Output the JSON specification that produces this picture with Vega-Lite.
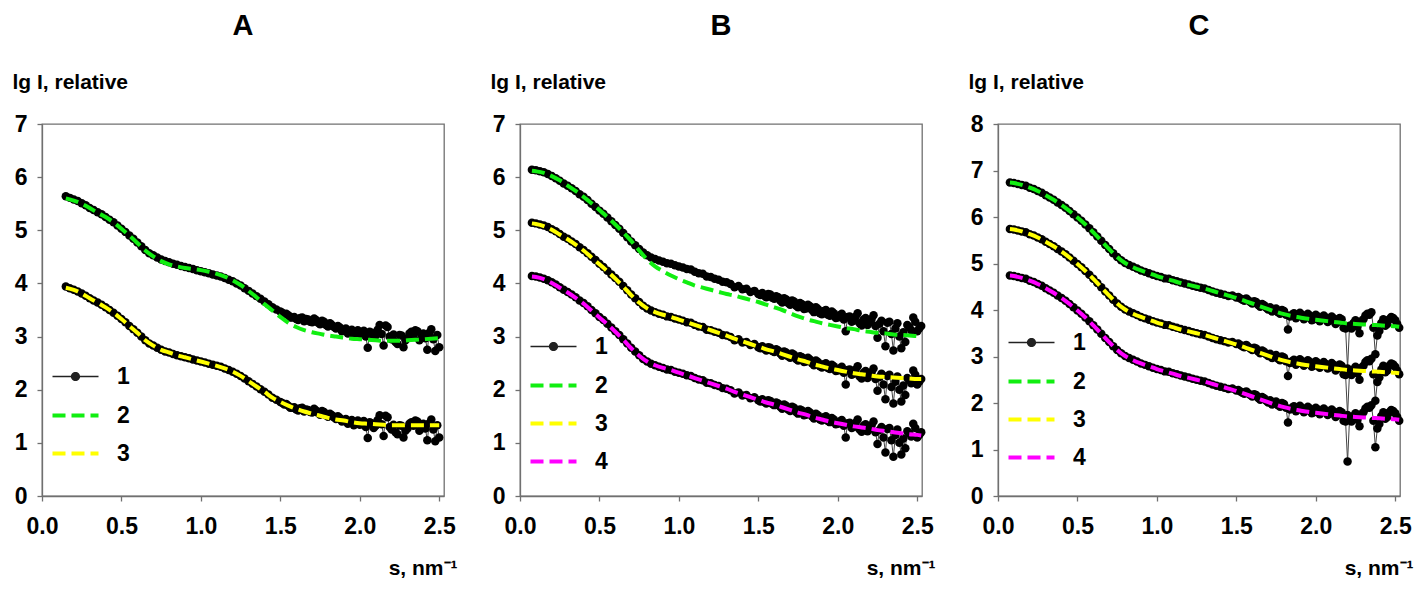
{
"$schema": "https://vega.github.io/schema/vega-lite/v6.json",
"background": "white",
"padding": {"left": 11, "top": 11, "right": 5, "bottom": 5},
"bounds": "flush",
"spacing": 76,
"resolve": {"scale": {"color": "independent", "fill": "independent", "stroke": "independent", "shape": "independent", "strokeDash": "independent"}},
"config": {
  "view": {"stroke": "#707070", "strokeWidth": 1.3},
  "axis": {"grid": false, "domainColor": "#707070", "domainWidth": 1.3, "tickColor": "#707070", "tickWidth": 1.3, "tickSize": 5, "labelFont": "Liberation Sans", "labelFontSize": 23, "labelFontWeight": "bold", "labelColor": "#000000", "titleFont": "Liberation Sans", "titleFontSize": 21, "titleFontWeight": "bold", "titleColor": "#000000", "labelFlush": false, "labelOverlap": false},
  "axisX": {"labelPadding": 14, "titleAlign": "right", "titleX": 415, "titleY": 78, "titleBaseline": "alphabetic", "titleAngle": 0},
  "axisY": {"labelPadding": 10, "titleAngle": 0, "titleAlign": "left", "titleX": -30, "titleY": -36, "titleBaseline": "alphabetic"},
  "legend": {"labelFont": "Liberation Sans", "labelFontSize": 23, "labelFontWeight": "bold", "labelColor": "#000000", "symbolSize": 529, "symbolStrokeWidth": 4, "labelOffset": 28, "rowPadding": 12, "symbolOpacity": 1},
  "title": {"font": "Liberation Sans", "fontSize": 29, "fontWeight": "bold", "color": "#000000", "anchor": "middle", "frame": "group", "offset": 30}
},
"datasets": {
"A": [
{"s":0.150,"d1":5.64,"d2":3.94},{"s":0.175,"d1":5.61,"d2":3.91},{"s":0.200,"d1":5.58,"d2":3.88},{"s":0.225,"d1":5.55,"d2":3.85},{"s":0.250,"d1":5.51,"d2":3.81},{"s":0.275,"d1":5.47,"d2":3.77},{"s":0.300,"d1":5.42,"d2":3.72},{"s":0.325,"d1":5.38,"d2":3.68},{"s":0.350,"d1":5.34,"d2":3.64},{"s":0.375,"d1":5.30,"d2":3.60},
{"s":0.400,"d1":5.25,"d2":3.55},{"s":0.425,"d1":5.20,"d2":3.50},{"s":0.450,"d1":5.15,"d2":3.45},{"s":0.475,"d1":5.09,"d2":3.39},{"s":0.500,"d1":5.03,"d2":3.33},{"s":0.525,"d1":4.97,"d2":3.27},{"s":0.550,"d1":4.90,"d2":3.20},{"s":0.575,"d1":4.84,"d2":3.14},{"s":0.600,"d1":4.77,"d2":3.07},{"s":0.625,"d1":4.70,"d2":3.00},
{"s":0.650,"d1":4.63,"d2":2.93},{"s":0.675,"d1":4.57,"d2":2.87},{"s":0.700,"d1":4.53,"d2":2.83},{"s":0.725,"d1":4.49,"d2":2.79},{"s":0.750,"d1":4.45,"d2":2.75},{"s":0.775,"d1":4.42,"d2":2.72},{"s":0.800,"d1":4.40,"d2":2.70},{"s":0.825,"d1":4.37,"d2":2.67},{"s":0.850,"d1":4.35,"d2":2.65},{"s":0.875,"d1":4.33,"d2":2.63},
{"s":0.900,"d1":4.31,"d2":2.61},{"s":0.925,"d1":4.29,"d2":2.59},{"s":0.950,"d1":4.27,"d2":2.57},{"s":0.975,"d1":4.25,"d2":2.55},{"s":1.000,"d1":4.23,"d2":2.53},{"s":1.025,"d1":4.21,"d2":2.51},{"s":1.050,"d1":4.19,"d2":2.49},{"s":1.075,"d1":4.17,"d2":2.47},{"s":1.100,"d1":4.15,"d2":2.45},{"s":1.125,"d1":4.13,"d2":2.43},
{"s":1.150,"d1":4.10,"d2":2.40},{"s":1.175,"d1":4.07,"d2":2.37},{"s":1.200,"d1":4.04,"d2":2.34},{"s":1.225,"d1":4.00,"d2":2.30},{"s":1.250,"d1":3.96,"d2":2.26},{"s":1.275,"d1":3.91,"d2":2.21},{"s":1.300,"d1":3.86,"d2":2.16},{"s":1.325,"d1":3.81,"d2":2.11},{"s":1.350,"d1":3.76,"d2":2.06},{"s":1.375,"d1":3.71,"d2":2.01},
{"s":1.400,"d1":3.66,"d2":1.96},{"s":1.425,"d1":3.61,"d2":1.91},{"s":1.450,"d1":3.55,"d2":1.85},{"s":1.475,"d1":3.51,"d2":1.81},{"s":1.500,"d1":3.47,"d2":1.77},{"s":1.525,"d1":3.42,"d2":1.72},{"s":1.550,"d1":3.40,"d2":1.70},{"s":1.575,"d1":3.36,"d2":1.66},{"s":1.600,"d1":3.33,"d2":1.63},{"s":1.625,"d1":3.35,"d2":1.65},
{"s":1.650,"d1":3.29,"d2":1.59},{"s":1.675,"d1":3.32,"d2":1.62},{"s":1.700,"d1":3.27,"d2":1.57},{"s":1.725,"d1":3.31,"d2":1.61},{"s":1.750,"d1":3.23,"d2":1.53},{"s":1.775,"d1":3.28,"d2":1.58},{"s":1.800,"d1":3.19,"d2":1.49},{"s":1.825,"d1":3.22,"d2":1.52},{"s":1.850,"d1":3.15,"d2":1.45},{"s":1.875,"d1":3.17,"d2":1.47},
{"s":1.900,"d1":3.12,"d2":1.42},{"s":1.925,"d1":3.06,"d2":1.36},{"s":1.950,"d1":3.13,"d2":1.43},{"s":1.975,"d1":3.08,"d2":1.38},{"s":2.000,"d1":3.04,"d2":1.34},{"s":2.025,"d1":3.11,"d2":1.41},{"s":2.050,"d1":2.79,"d2":1.09},{"s":2.075,"d1":3.07,"d2":1.37},{"s":2.100,"d1":3.02,"d2":1.32},{"s":2.125,"d1":3.22,"d2":1.52},
{"s":2.150,"d1":2.83,"d2":1.13},{"s":2.175,"d1":3.18,"d2":1.48},{"s":2.200,"d1":2.95,"d2":1.25},{"s":2.225,"d1":2.90,"d2":1.20},{"s":2.250,"d1":3.03,"d2":1.33},{"s":2.275,"d1":2.80,"d2":1.10},{"s":2.300,"d1":2.97,"d2":1.27},{"s":2.325,"d1":3.09,"d2":1.39},{"s":2.350,"d1":3.12,"d2":1.42},{"s":2.375,"d1":2.93,"d2":1.23},
{"s":2.400,"d1":3.06,"d2":1.36},{"s":2.425,"d1":2.75,"d2":1.05},{"s":2.450,"d1":3.14,"d2":1.44},{"s":2.475,"d1":2.73,"d2":1.03},{"s":2.500,"d1":2.80,"d2":1.10},
{"s":1.5125,"d1":3.45,"d2":1.75},{"s":1.5375,"d1":3.43,"d2":1.73},{"s":1.5625,"d1":3.36,"d2":1.66},{"s":1.5875,"d1":3.37,"d2":1.67},{"s":1.6125,"d1":3.31,"d2":1.61},{"s":1.6375,"d1":3.36,"d2":1.66},{"s":1.6625,"d1":3.33,"d2":1.63},{"s":1.6875,"d1":3.28,"d2":1.58},{"s":1.7125,"d1":3.34,"d2":1.64},{"s":1.7375,"d1":3.26,"d2":1.56},
{"s":1.7625,"d1":3.30,"d2":1.60},{"s":1.7875,"d1":3.22,"d2":1.52},{"s":1.8125,"d1":3.25,"d2":1.55},{"s":1.8375,"d1":3.18,"d2":1.48},{"s":1.8625,"d1":3.20,"d2":1.50},{"s":1.8875,"d1":3.10,"d2":1.40},{"s":1.9125,"d1":3.15,"d2":1.45},{"s":1.9375,"d1":3.09,"d2":1.39},{"s":1.9625,"d1":3.03,"d2":1.33},{"s":1.9875,"d1":3.12,"d2":1.42},
{"s":2.0125,"d1":3.07,"d2":1.37},{"s":2.0375,"d1":3.00,"d2":1.30},{"s":2.0625,"d1":3.09,"d2":1.39},{"s":2.0875,"d1":2.98,"d2":1.28},{"s":2.1125,"d1":3.13,"d2":1.43},{"s":2.1375,"d1":3.05,"d2":1.35},{"s":2.1625,"d1":3.21,"d2":1.51},{"s":2.1875,"d1":3.00,"d2":1.30},{"s":2.2125,"d1":3.04,"d2":1.34},{"s":2.2375,"d1":2.86,"d2":1.16},
{"s":2.2625,"d1":3.02,"d2":1.32},{"s":2.2875,"d1":2.93,"d2":1.23},{"s":2.3125,"d1":3.06,"d2":1.36},{"s":2.3375,"d1":3.02,"d2":1.32},{"s":2.3625,"d1":3.10,"d2":1.40},{"s":2.3875,"d1":3.04,"d2":1.34},{"s":2.4125,"d1":2.97,"d2":1.27},{"s":2.4375,"d1":3.07,"d2":1.37},{"s":2.4625,"d1":2.95,"d2":1.25},{"s":2.4875,"d1":3.03,"d2":1.33}
],
"Af": [
{"s":0.15,"2":5.60,"3":3.92},{"s":0.20,"2":5.56,"3":3.88},{"s":0.25,"2":5.50,"3":3.81},{"s":0.30,"2":5.42,"3":3.72},{"s":0.35,"2":5.33,"3":3.64},{"s":0.40,"2":5.25,"3":3.55},{"s":0.45,"2":5.15,"3":3.45},{"s":0.50,"2":5.03,"3":3.33},{"s":0.55,"2":4.90,"3":3.20},{"s":0.60,"2":4.76,"3":3.07},
{"s":0.65,"2":4.62,"3":2.93},{"s":0.70,"2":4.51,"3":2.83},{"s":0.75,"2":4.42,"3":2.75},{"s":0.80,"2":4.36,"3":2.70},{"s":0.85,"2":4.32,"3":2.65},{"s":0.90,"2":4.29,"3":2.61},{"s":0.95,"2":4.27,"3":2.57},{"s":1.00,"2":4.25,"3":2.53},{"s":1.05,"2":4.22,"3":2.49},{"s":1.10,"2":4.18,"3":2.45},
{"s":1.15,"2":4.13,"3":2.40},{"s":1.20,"2":4.06,"3":2.34},{"s":1.25,"2":3.97,"3":2.26},{"s":1.30,"2":3.86,"3":2.16},{"s":1.35,"2":3.74,"3":2.06},{"s":1.40,"2":3.61,"3":1.96},{"s":1.45,"2":3.49,"3":1.85},{"s":1.50,"2":3.37,"3":1.77},{"s":1.55,"2":3.26,"3":1.70},{"s":1.60,"2":3.18,"3":1.64},
{"s":1.65,"2":3.12,"3":1.59},{"s":1.70,"2":3.08,"3":1.55},{"s":1.75,"2":3.05,"3":1.51},{"s":1.80,"2":3.02,"3":1.47},{"s":1.85,"2":3.00,"3":1.44},{"s":1.90,"2":2.98,"3":1.42},{"s":1.95,"2":2.96,"3":1.39},{"s":2.00,"2":2.95,"3":1.37},{"s":2.05,"2":2.94,"3":1.36},{"s":2.10,"2":2.93,"3":1.35},
{"s":2.15,"2":2.92,"3":1.34},{"s":2.20,"2":2.92,"3":1.33},{"s":2.25,"2":2.92,"3":1.33},{"s":2.30,"2":2.93,"3":1.33},{"s":2.35,"2":2.94,"3":1.33},{"s":2.40,"2":2.95,"3":1.33},{"s":2.45,"2":2.96,"3":1.33},{"s":2.50,"2":2.97,"3":1.33}
],
"B": [
{"s":0.075,"d1":6.14,"d2":5.14,"d3":4.14},{"s":0.100,"d1":6.13,"d2":5.13,"d3":4.13},{"s":0.125,"d1":6.11,"d2":5.11,"d3":4.11},{"s":0.150,"d1":6.09,"d2":5.09,"d3":4.09},{"s":0.175,"d1":6.06,"d2":5.06,"d3":4.06},{"s":0.200,"d1":6.02,"d2":5.02,"d3":4.02},{"s":0.225,"d1":5.98,"d2":4.98,"d3":3.98},{"s":0.250,"d1":5.93,"d2":4.93,"d3":3.93},{"s":0.275,"d1":5.88,"d2":4.88,"d3":3.88},{"s":0.300,"d1":5.84,"d2":4.84,"d3":3.84},
{"s":0.325,"d1":5.79,"d2":4.79,"d3":3.79},{"s":0.350,"d1":5.74,"d2":4.74,"d3":3.74},{"s":0.375,"d1":5.68,"d2":4.68,"d3":3.68},{"s":0.400,"d1":5.63,"d2":4.63,"d3":3.63},{"s":0.425,"d1":5.57,"d2":4.57,"d3":3.57},{"s":0.450,"d1":5.50,"d2":4.50,"d3":3.50},{"s":0.475,"d1":5.44,"d2":4.44,"d3":3.44},{"s":0.500,"d1":5.37,"d2":4.37,"d3":3.37},{"s":0.525,"d1":5.31,"d2":4.31,"d3":3.31},{"s":0.550,"d1":5.24,"d2":4.24,"d3":3.24},
{"s":0.575,"d1":5.17,"d2":4.17,"d3":3.17},{"s":0.600,"d1":5.10,"d2":4.10,"d3":3.10},{"s":0.625,"d1":5.03,"d2":4.03,"d3":3.03},{"s":0.650,"d1":4.95,"d2":3.95,"d3":2.95},{"s":0.675,"d1":4.87,"d2":3.87,"d3":2.87},{"s":0.700,"d1":4.79,"d2":3.79,"d3":2.79},{"s":0.725,"d1":4.72,"d2":3.72,"d3":2.72},{"s":0.750,"d1":4.65,"d2":3.65,"d3":2.65},{"s":0.775,"d1":4.58,"d2":3.58,"d3":2.58},{"s":0.800,"d1":4.53,"d2":3.53,"d3":2.53},
{"s":0.825,"d1":4.49,"d2":3.49,"d3":2.49},{"s":0.850,"d1":4.46,"d2":3.46,"d3":2.46},{"s":0.875,"d1":4.43,"d2":3.43,"d3":2.43},{"s":0.900,"d1":4.41,"d2":3.41,"d3":2.41},{"s":0.925,"d1":4.38,"d2":3.38,"d3":2.38},{"s":0.950,"d1":4.37,"d2":3.37,"d3":2.37},{"s":0.975,"d1":4.34,"d2":3.34,"d3":2.34},{"s":1.000,"d1":4.32,"d2":3.32,"d3":2.32},{"s":1.025,"d1":4.30,"d2":3.30,"d3":2.30},{"s":1.050,"d1":4.27,"d2":3.27,"d3":2.27},
{"s":1.075,"d1":4.26,"d2":3.26,"d3":2.26},{"s":1.100,"d1":4.22,"d2":3.22,"d3":2.22},{"s":1.125,"d1":4.19,"d2":3.19,"d3":2.19},{"s":1.150,"d1":4.18,"d2":3.18,"d3":2.18},{"s":1.175,"d1":4.13,"d2":3.13,"d3":2.13},{"s":1.200,"d1":4.12,"d2":3.12,"d3":2.12},{"s":1.225,"d1":4.09,"d2":3.09,"d3":2.09},{"s":1.250,"d1":4.07,"d2":3.07,"d3":2.07},{"s":1.275,"d1":4.03,"d2":3.03,"d3":2.03},{"s":1.300,"d1":4.02,"d2":3.02,"d3":2.02},
{"s":1.325,"d1":3.99,"d2":2.99,"d3":1.99},{"s":1.350,"d1":3.93,"d2":2.93,"d3":1.93},{"s":1.375,"d1":3.95,"d2":2.95,"d3":1.95},{"s":1.400,"d1":3.89,"d2":2.89,"d3":1.89},{"s":1.425,"d1":3.90,"d2":2.90,"d3":1.90},{"s":1.450,"d1":3.84,"d2":2.84,"d3":1.84},{"s":1.475,"d1":3.86,"d2":2.86,"d3":1.86},{"s":1.500,"d1":3.80,"d2":2.80,"d3":1.80},{"s":1.525,"d1":3.82,"d2":2.82,"d3":1.82},{"s":1.550,"d1":3.74,"d2":2.74,"d3":1.74},
{"s":1.575,"d1":3.79,"d2":2.79,"d3":1.79},{"s":1.600,"d1":3.71,"d2":2.71,"d3":1.71},{"s":1.625,"d1":3.74,"d2":2.74,"d3":1.74},{"s":1.650,"d1":3.64,"d2":2.64,"d3":1.64},{"s":1.675,"d1":3.70,"d2":2.70,"d3":1.70},{"s":1.700,"d1":3.60,"d2":2.60,"d3":1.60},{"s":1.725,"d1":3.66,"d2":2.66,"d3":1.66},{"s":1.750,"d1":3.55,"d2":2.55,"d3":1.55},{"s":1.775,"d1":3.61,"d2":2.61,"d3":1.61},{"s":1.800,"d1":3.53,"d2":2.53,"d3":1.53},
{"s":1.825,"d1":3.57,"d2":2.57,"d3":1.57},{"s":1.850,"d1":3.46,"d2":2.46,"d3":1.46},{"s":1.875,"d1":3.52,"d2":2.52,"d3":1.52},{"s":1.900,"d1":3.42,"d2":2.42,"d3":1.42},{"s":1.925,"d1":3.50,"d2":2.50,"d3":1.50},{"s":1.950,"d1":3.39,"d2":2.39,"d3":1.39},{"s":1.975,"d1":3.44,"d2":2.44,"d3":1.44},{"s":2.000,"d1":3.36,"d2":2.36,"d3":1.36},{"s":2.025,"d1":3.43,"d2":2.43,"d3":1.43},{"s":2.050,"d1":3.10,"d2":2.10,"d3":1.10},
{"s":2.075,"d1":3.38,"d2":2.38,"d3":1.38},{"s":2.100,"d1":3.30,"d2":2.30,"d3":1.30},{"s":2.125,"d1":3.44,"d2":2.44,"d3":1.44},{"s":2.150,"d1":3.21,"d2":2.21,"d3":1.21},{"s":2.175,"d1":3.35,"d2":2.35,"d3":1.35},{"s":2.200,"d1":3.27,"d2":2.27,"d3":1.27},{"s":2.225,"d1":3.40,"d2":2.40,"d3":1.40},{"s":2.250,"d1":2.98,"d2":1.98,"d3":0.98},{"s":2.275,"d1":3.30,"d2":2.30,"d3":1.30},{"s":2.300,"d1":2.82,"d2":1.82,"d3":0.82},
{"s":2.325,"d1":3.28,"d2":2.28,"d3":1.28},{"s":2.350,"d1":2.74,"d2":1.74,"d3":0.74},{"s":2.375,"d1":3.25,"d2":2.25,"d3":1.25},{"s":2.400,"d1":2.78,"d2":1.78,"d3":0.78},{"s":2.425,"d1":2.90,"d2":1.90,"d3":0.90},{"s":2.450,"d1":3.18,"d2":2.18,"d3":1.18},{"s":2.475,"d1":3.36,"d2":2.36,"d3":1.36},{"s":2.500,"d1":3.10,"d2":2.10,"d3":1.10},{"s":2.525,"d1":3.20,"d2":2.20,"d3":1.20},
{"s":1.5125,"d1":3.78,"d2":2.78,"d3":1.78},{"s":1.5375,"d1":3.77,"d2":2.77,"d3":1.77},{"s":1.5625,"d1":3.80,"d2":2.80,"d3":1.80},{"s":1.5875,"d1":3.73,"d2":2.73,"d3":1.73},{"s":1.6125,"d1":3.76,"d2":2.76,"d3":1.76},{"s":1.6375,"d1":3.68,"d2":2.68,"d3":1.68},{"s":1.6625,"d1":3.72,"d2":2.72,"d3":1.72},{"s":1.6875,"d1":3.63,"d2":2.63,"d3":1.63},{"s":1.7125,"d1":3.68,"d2":2.68,"d3":1.68},{"s":1.7375,"d1":3.58,"d2":2.58,"d3":1.58},
{"s":1.7625,"d1":3.63,"d2":2.63,"d3":1.63},{"s":1.7875,"d1":3.52,"d2":2.52,"d3":1.52},{"s":1.8125,"d1":3.60,"d2":2.60,"d3":1.60},{"s":1.8375,"d1":3.50,"d2":2.50,"d3":1.50},{"s":1.8625,"d1":3.55,"d2":2.55,"d3":1.55},{"s":1.8875,"d1":3.44,"d2":2.44,"d3":1.44},{"s":1.9125,"d1":3.48,"d2":2.48,"d3":1.48},{"s":1.9375,"d1":3.41,"d2":2.41,"d3":1.41},{"s":1.9625,"d1":3.47,"d2":2.47,"d3":1.47},{"s":1.9875,"d1":3.35,"d2":2.35,"d3":1.35},
{"s":2.0125,"d1":3.40,"d2":2.40,"d3":1.40},{"s":2.0375,"d1":3.32,"d2":2.32,"d3":1.32},{"s":2.0625,"d1":3.37,"d2":2.37,"d3":1.37},{"s":2.0875,"d1":3.28,"d2":2.28,"d3":1.28},{"s":2.1125,"d1":3.38,"d2":2.38,"d3":1.38},{"s":2.1375,"d1":3.25,"d2":2.25,"d3":1.25},{"s":2.1625,"d1":3.32,"d2":2.32,"d3":1.32},{"s":2.1875,"d1":3.22,"d2":2.22,"d3":1.22},{"s":2.2125,"d1":3.33,"d2":2.33,"d3":1.33},{"s":2.2375,"d1":3.20,"d2":2.20,"d3":1.20},
{"s":2.2625,"d1":3.24,"d2":2.24,"d3":1.24},{"s":2.2875,"d1":3.10,"d2":2.10,"d3":1.10},{"s":2.3125,"d1":3.26,"d2":2.26,"d3":1.26},{"s":2.3375,"d1":3.05,"d2":2.05,"d3":1.05},{"s":2.3625,"d1":3.15,"d2":2.15,"d3":1.15},{"s":2.3875,"d1":3.00,"d2":2.00,"d3":1.00},{"s":2.4125,"d1":3.08,"d2":2.08,"d3":1.08},{"s":2.4375,"d1":3.22,"d2":2.22,"d3":1.22},{"s":2.4625,"d1":3.12,"d2":2.12,"d3":1.12},{"s":2.4875,"d1":3.28,"d2":2.28,"d3":1.28},
{"s":2.5125,"d1":3.15,"d2":2.15,"d3":1.15}
],
"Bf": [
{"s":0.075,"2":6.12,"3":5.13,"4":4.13},{"s":0.10,"2":6.11,"3":5.12,"4":4.12},{"s":0.15,"2":6.08,"3":5.08,"4":4.08},{"s":0.20,"2":6.02,"3":5.01,"4":4.01},{"s":0.25,"2":5.94,"3":4.92,"4":3.92},{"s":0.30,"2":5.84,"3":4.83,"4":3.83},{"s":0.35,"2":5.74,"3":4.73,"4":3.73},{"s":0.40,"2":5.63,"3":4.62,"4":3.62},{"s":0.45,"2":5.51,"3":4.49,"4":3.49},{"s":0.50,"2":5.38,"3":4.36,"4":3.36},
{"s":0.55,"2":5.25,"3":4.23,"4":3.23},{"s":0.60,"2":5.11,"3":4.09,"4":3.09},{"s":0.65,"2":4.96,"3":3.94,"4":2.94},{"s":0.70,"2":4.80,"3":3.78,"4":2.78},{"s":0.75,"2":4.62,"3":3.64,"4":2.64},{"s":0.80,"2":4.45,"3":3.53,"4":2.53},{"s":0.85,"2":4.32,"3":3.46,"4":2.46},{"s":0.90,"2":4.23,"3":3.41,"4":2.41},{"s":0.95,"2":4.15,"3":3.37,"4":2.37},{"s":1.00,"2":4.08,"3":3.32,"4":2.32},
{"s":1.05,"2":4.02,"3":3.27,"4":2.27},{"s":1.10,"2":3.96,"3":3.22,"4":2.22},{"s":1.15,"2":3.92,"3":3.17,"4":2.17},{"s":1.20,"2":3.88,"3":3.12,"4":2.12},{"s":1.25,"2":3.84,"3":3.07,"4":2.07},{"s":1.30,"2":3.80,"3":3.02,"4":2.02},{"s":1.35,"2":3.77,"3":2.96,"4":1.96},{"s":1.40,"2":3.73,"3":2.91,"4":1.91},{"s":1.45,"2":3.69,"3":2.86,"4":1.86},{"s":1.50,"2":3.65,"3":2.81,"4":1.81},
{"s":1.55,"2":3.60,"3":2.76,"4":1.76},{"s":1.60,"2":3.55,"3":2.72,"4":1.72},{"s":1.65,"2":3.50,"3":2.67,"4":1.67},{"s":1.70,"2":3.44,"3":2.62,"4":1.62},{"s":1.75,"2":3.38,"3":2.57,"4":1.57},{"s":1.80,"2":3.33,"3":2.53,"4":1.53},{"s":1.85,"2":3.29,"3":2.48,"4":1.48},{"s":1.90,"2":3.25,"3":2.44,"4":1.44},{"s":1.95,"2":3.22,"3":2.40,"4":1.40},{"s":2.00,"2":3.19,"3":2.37,"4":1.37},
{"s":2.05,"2":3.16,"3":2.34,"4":1.34},{"s":2.10,"2":3.14,"3":2.31,"4":1.31},{"s":2.15,"2":3.11,"3":2.29,"4":1.29},{"s":2.20,"2":3.09,"3":2.27,"4":1.27},{"s":2.25,"2":3.07,"3":2.25,"4":1.24},{"s":2.30,"2":3.06,"3":2.24,"4":1.22},{"s":2.35,"2":3.04,"3":2.23,"4":1.20},{"s":2.40,"2":3.03,"3":2.22,"4":1.18},{"s":2.45,"2":3.02,"3":2.21,"4":1.16},{"s":2.50,"2":3.01,"3":2.20,"4":1.15},{"s":2.525,"2":3.00,"3":2.20,"4":1.14}
],
"C": [
{"s":0.075,"d1":6.74,"d2":5.74,"d3":4.74},{"s":0.100,"d1":6.73,"d2":5.73,"d3":4.73},{"s":0.125,"d1":6.71,"d2":5.71,"d3":4.71},{"s":0.150,"d1":6.69,"d2":5.69,"d3":4.69},{"s":0.175,"d1":6.67,"d2":5.67,"d3":4.67},{"s":0.200,"d1":6.63,"d2":5.63,"d3":4.63},{"s":0.225,"d1":6.60,"d2":5.60,"d3":4.60},{"s":0.250,"d1":6.56,"d2":5.56,"d3":4.56},{"s":0.275,"d1":6.52,"d2":5.52,"d3":4.52},{"s":0.300,"d1":6.47,"d2":5.47,"d3":4.47},
{"s":0.325,"d1":6.42,"d2":5.42,"d3":4.42},{"s":0.350,"d1":6.37,"d2":5.37,"d3":4.37},{"s":0.375,"d1":6.31,"d2":5.31,"d3":4.31},{"s":0.400,"d1":6.26,"d2":5.26,"d3":4.26},{"s":0.425,"d1":6.20,"d2":5.20,"d3":4.20},{"s":0.450,"d1":6.13,"d2":5.13,"d3":4.13},{"s":0.475,"d1":6.06,"d2":5.06,"d3":4.06},{"s":0.500,"d1":5.99,"d2":4.99,"d3":3.99},{"s":0.525,"d1":5.92,"d2":4.92,"d3":3.92},{"s":0.550,"d1":5.84,"d2":4.84,"d3":3.84},
{"s":0.575,"d1":5.76,"d2":4.76,"d3":3.76},{"s":0.600,"d1":5.67,"d2":4.67,"d3":3.67},{"s":0.625,"d1":5.58,"d2":4.58,"d3":3.58},{"s":0.650,"d1":5.49,"d2":4.49,"d3":3.49},{"s":0.675,"d1":5.40,"d2":4.40,"d3":3.40},{"s":0.700,"d1":5.31,"d2":4.31,"d3":3.31},{"s":0.725,"d1":5.22,"d2":4.22,"d3":3.22},{"s":0.750,"d1":5.14,"d2":4.14,"d3":3.14},{"s":0.775,"d1":5.07,"d2":4.07,"d3":3.07},{"s":0.800,"d1":5.01,"d2":4.01,"d3":3.01},
{"s":0.825,"d1":4.97,"d2":3.97,"d3":2.97},{"s":0.850,"d1":4.93,"d2":3.93,"d3":2.93},{"s":0.875,"d1":4.89,"d2":3.89,"d3":2.89},{"s":0.900,"d1":4.85,"d2":3.85,"d3":2.85},{"s":0.925,"d1":4.82,"d2":3.82,"d3":2.82},{"s":0.950,"d1":4.79,"d2":3.79,"d3":2.79},{"s":0.975,"d1":4.76,"d2":3.76,"d3":2.76},{"s":1.000,"d1":4.73,"d2":3.73,"d3":2.73},{"s":1.025,"d1":4.71,"d2":3.71,"d3":2.71},{"s":1.050,"d1":4.68,"d2":3.68,"d3":2.68},
{"s":1.075,"d1":4.67,"d2":3.67,"d3":2.67},{"s":1.100,"d1":4.64,"d2":3.64,"d3":2.64},{"s":1.125,"d1":4.62,"d2":3.62,"d3":2.62},{"s":1.150,"d1":4.59,"d2":3.59,"d3":2.59},{"s":1.175,"d1":4.57,"d2":3.57,"d3":2.57},{"s":1.200,"d1":4.55,"d2":3.55,"d3":2.55},{"s":1.225,"d1":4.52,"d2":3.52,"d3":2.52},{"s":1.250,"d1":4.50,"d2":3.50,"d3":2.50},{"s":1.275,"d1":4.48,"d2":3.48,"d3":2.48},{"s":1.300,"d1":4.46,"d2":3.46,"d3":2.46},
{"s":1.325,"d1":4.43,"d2":3.43,"d3":2.43},{"s":1.350,"d1":4.40,"d2":3.40,"d3":2.40},{"s":1.375,"d1":4.37,"d2":3.37,"d3":2.37},{"s":1.400,"d1":4.35,"d2":3.35,"d3":2.35},{"s":1.425,"d1":4.33,"d2":3.33,"d3":2.33},{"s":1.450,"d1":4.30,"d2":3.30,"d3":2.30},{"s":1.475,"d1":4.31,"d2":3.31,"d3":2.31},{"s":1.500,"d1":4.27,"d2":3.27,"d3":2.27},{"s":1.525,"d1":4.25,"d2":3.25,"d3":2.25},{"s":1.550,"d1":4.20,"d2":3.20,"d3":2.20},
{"s":1.575,"d1":4.21,"d2":3.21,"d3":2.21},{"s":1.600,"d1":4.14,"d2":3.14,"d3":2.14},{"s":1.625,"d1":4.17,"d2":3.17,"d3":2.17},{"s":1.650,"d1":4.07,"d2":3.07,"d3":2.07},{"s":1.675,"d1":4.10,"d2":3.10,"d3":2.10},{"s":1.700,"d1":4.01,"d2":3.01,"d3":2.01},{"s":1.725,"d1":3.97,"d2":2.97,"d3":1.97},{"s":1.750,"d1":4.03,"d2":3.03,"d3":2.03},{"s":1.775,"d1":3.92,"d2":2.92,"d3":1.92},{"s":1.800,"d1":3.98,"d2":2.98,"d3":1.98},
{"s":1.825,"d1":3.58,"d2":2.58,"d3":1.58},{"s":1.850,"d1":3.90,"d2":2.90,"d3":1.90},{"s":1.875,"d1":3.82,"d2":2.82,"d3":1.82},{"s":1.900,"d1":3.94,"d2":2.94,"d3":1.94},{"s":1.925,"d1":3.80,"d2":2.80,"d3":1.80},{"s":1.950,"d1":3.92,"d2":2.92,"d3":1.92},{"s":1.975,"d1":3.78,"d2":2.78,"d3":1.78},{"s":2.000,"d1":3.90,"d2":2.90,"d3":1.90},{"s":2.025,"d1":3.76,"d2":2.76,"d3":1.76},{"s":2.050,"d1":3.88,"d2":2.88,"d3":1.88},
{"s":2.075,"d1":3.74,"d2":2.74,"d3":1.74},{"s":2.100,"d1":3.86,"d2":2.86,"d3":1.86},{"s":2.125,"d1":3.70,"d2":2.70,"d3":1.70},{"s":2.150,"d1":3.83,"d2":2.83,"d3":1.83},{"s":2.175,"d1":3.62,"d2":2.62,"d3":1.62},{"s":2.200,"d1":2.74,"d2":1.74,"d3":0.74},{"s":2.225,"d1":3.60,"d2":2.60,"d3":1.60},{"s":2.250,"d1":3.78,"d2":2.78,"d3":1.78},{"s":2.275,"d1":3.50,"d2":2.50,"d3":1.50},{"s":2.300,"d1":3.80,"d2":2.80,"d3":1.80},
{"s":2.325,"d1":3.92,"d2":2.92,"d3":1.92},{"s":2.350,"d1":3.95,"d2":2.95,"d3":1.95},{"s":2.375,"d1":3.05,"d2":2.05,"d3":1.05},{"s":2.400,"d1":3.55,"d2":2.55,"d3":1.55},{"s":2.425,"d1":3.80,"d2":2.80,"d3":1.80},{"s":2.450,"d1":3.70,"d2":2.70,"d3":1.70},{"s":2.475,"d1":3.85,"d2":2.85,"d3":1.85},{"s":2.500,"d1":3.78,"d2":2.78,"d3":1.78},{"s":2.525,"d1":3.62,"d2":2.62,"d3":1.62},
{"s":1.5125,"d1":4.28,"d2":3.28,"d3":2.28},{"s":1.5375,"d1":4.22,"d2":3.22,"d3":2.22},{"s":1.5625,"d1":4.25,"d2":3.25,"d3":2.25},{"s":1.5875,"d1":4.17,"d2":3.17,"d3":2.17},{"s":1.6125,"d1":4.19,"d2":3.19,"d3":2.19},{"s":1.6375,"d1":4.11,"d2":3.11,"d3":2.11},{"s":1.6625,"d1":4.13,"d2":3.13,"d3":2.13},{"s":1.6875,"d1":4.05,"d2":3.05,"d3":2.05},{"s":1.7125,"d1":4.06,"d2":3.06,"d3":2.06},{"s":1.7375,"d1":3.99,"d2":2.99,"d3":1.99},
{"s":1.7625,"d1":3.95,"d2":2.95,"d3":1.95},{"s":1.7875,"d1":4.00,"d2":3.00,"d3":2.00},{"s":1.8125,"d1":3.90,"d2":2.90,"d3":1.90},{"s":1.8375,"d1":3.86,"d2":2.86,"d3":1.86},{"s":1.8625,"d1":3.93,"d2":2.93,"d3":1.93},{"s":1.8875,"d1":3.86,"d2":2.86,"d3":1.86},{"s":1.9125,"d1":3.90,"d2":2.90,"d3":1.90},{"s":1.9375,"d1":3.84,"d2":2.84,"d3":1.84},{"s":1.9625,"d1":3.88,"d2":2.88,"d3":1.88},{"s":1.9875,"d1":3.80,"d2":2.80,"d3":1.80},
{"s":2.0125,"d1":3.86,"d2":2.86,"d3":1.86},{"s":2.0375,"d1":3.81,"d2":2.81,"d3":1.81},{"s":2.0625,"d1":3.84,"d2":2.84,"d3":1.84},{"s":2.0875,"d1":3.77,"d2":2.77,"d3":1.77},{"s":2.1125,"d1":3.82,"d2":2.82,"d3":1.82},{"s":2.1375,"d1":3.74,"d2":2.74,"d3":1.74},{"s":2.1625,"d1":3.80,"d2":2.80,"d3":1.80},{"s":2.1875,"d1":3.60,"d2":2.60,"d3":1.60},{"s":2.2125,"d1":3.66,"d2":2.66,"d3":1.66},{"s":2.2375,"d1":3.72,"d2":2.72,"d3":1.72},
{"s":2.2625,"d1":3.64,"d2":2.64,"d3":1.64},{"s":2.2875,"d1":3.76,"d2":2.76,"d3":1.76},{"s":2.3125,"d1":3.88,"d2":2.88,"d3":1.88},{"s":2.3375,"d1":3.90,"d2":2.90,"d3":1.90},{"s":2.3625,"d1":3.62,"d2":2.62,"d3":1.62},{"s":2.3875,"d1":3.45,"d2":2.45,"d3":1.45},{"s":2.4125,"d1":3.72,"d2":2.72,"d3":1.72},{"s":2.4375,"d1":3.66,"d2":2.66,"d3":1.66},{"s":2.4625,"d1":3.80,"d2":2.80,"d3":1.80},{"s":2.4875,"d1":3.83,"d2":2.83,"d3":1.83},
{"s":2.5125,"d1":3.70,"d2":2.70,"d3":1.70}
],
"Cf": [
{"s":0.075,"2":6.74,"3":5.74,"4":4.74},{"s":0.10,"2":6.73,"3":5.73,"4":4.73},{"s":0.15,"2":6.69,"3":5.69,"4":4.69},{"s":0.20,"2":6.63,"3":5.63,"4":4.63},{"s":0.25,"2":6.56,"3":5.56,"4":4.56},{"s":0.30,"2":6.47,"3":5.47,"4":4.47},{"s":0.35,"2":6.37,"3":5.37,"4":4.37},{"s":0.40,"2":6.26,"3":5.26,"4":4.26},{"s":0.45,"2":6.13,"3":5.13,"4":4.13},{"s":0.50,"2":5.99,"3":4.99,"4":3.99},
{"s":0.55,"2":5.84,"3":4.84,"4":3.84},{"s":0.60,"2":5.67,"3":4.67,"4":3.67},{"s":0.65,"2":5.49,"3":4.49,"4":3.49},{"s":0.70,"2":5.31,"3":4.31,"4":3.31},{"s":0.75,"2":5.14,"3":4.14,"4":3.14},{"s":0.80,"2":5.01,"3":4.01,"4":3.01},{"s":0.85,"2":4.92,"3":3.92,"4":2.92},{"s":0.90,"2":4.85,"3":3.85,"4":2.85},{"s":0.95,"2":4.79,"3":3.79,"4":2.79},{"s":1.00,"2":4.73,"3":3.73,"4":2.73},
{"s":1.05,"2":4.68,"3":3.68,"4":2.68},{"s":1.10,"2":4.63,"3":3.63,"4":2.63},{"s":1.15,"2":4.58,"3":3.58,"4":2.58},{"s":1.20,"2":4.54,"3":3.54,"4":2.54},{"s":1.25,"2":4.50,"3":3.50,"4":2.50},{"s":1.30,"2":4.46,"3":3.46,"4":2.46},{"s":1.35,"2":4.41,"3":3.41,"4":2.41},{"s":1.40,"2":4.36,"3":3.36,"4":2.36},{"s":1.45,"2":4.31,"3":3.31,"4":2.31},{"s":1.50,"2":4.26,"3":3.26,"4":2.26},
{"s":1.55,"2":4.20,"3":3.20,"4":2.20},{"s":1.60,"2":4.14,"3":3.14,"4":2.14},{"s":1.65,"2":4.08,"3":3.08,"4":2.08},{"s":1.70,"2":4.02,"3":3.02,"4":2.02},{"s":1.75,"2":3.96,"3":2.96,"4":1.96},{"s":1.80,"2":3.91,"3":2.91,"4":1.91},{"s":1.85,"2":3.87,"3":2.87,"4":1.87},{"s":1.90,"2":3.84,"3":2.84,"4":1.84},{"s":1.95,"2":3.81,"3":2.81,"4":1.81},{"s":2.00,"2":3.79,"3":2.79,"4":1.79},
{"s":2.05,"2":3.77,"3":2.77,"4":1.77},{"s":2.10,"2":3.75,"3":2.75,"4":1.75},{"s":2.15,"2":3.73,"3":2.73,"4":1.73},{"s":2.20,"2":3.71,"3":2.71,"4":1.71},{"s":2.25,"2":3.70,"3":2.70,"4":1.70},{"s":2.30,"2":3.69,"3":2.69,"4":1.69},{"s":2.35,"2":3.68,"3":2.68,"4":1.68},{"s":2.40,"2":3.67,"3":2.67,"4":1.67},{"s":2.45,"2":3.66,"3":2.66,"4":1.66},{"s":2.50,"2":3.65,"3":2.65,"4":1.65},{"s":2.525,"2":3.64,"3":2.64,"4":1.64}
]
},
"hconcat": [
{
  "title": {"text": "A"},
  "width": 402, "height": 372,
  "encoding": {
    "x": {"field": "s", "type": "quantitative", "scale": {"domain": [0, 2.53], "nice": false, "zero": false}, "axis": {"values": [0, 0.5, 1, 1.5, 2, 2.5], "format": ".1f", "title": "s, nm⁻¹"}},
    "y": {"field": "v", "type": "quantitative", "scale": {"domain": [0, 7], "nice": false}, "axis": {"values": [0,1,2,3,4,5,6,7], "title": "lg I, relative"}}
  },
  "layer": [
    {"data": {"name": "A"}, "transform": [{"fold": ["d1","d2"], "as": ["curve","v"]}],
     "mark": {"type": "line", "color": "#444444", "strokeWidth": 1},
     "encoding": {"detail": {"field": "curve"}}},
    {"data": {"name": "A"}, "transform": [{"fold": ["d1","d2"], "as": ["curve","v"]}],
     "mark": {"type": "point", "filled": true, "color": "#000000", "size": 72, "opacity": 1},
     "encoding": {}},
    {"data": {"name": "Af"}, "transform": [{"fold": ["2","3"], "as": ["series","v"]}],
     "mark": {"type": "line", "interpolate": "monotone", "strokeDash": [13,6], "strokeWidth": 4},
     "encoding": {"color": {"field": "series", "type": "nominal", "scale": {"domain": ["2","3"], "range": ["#11ee11","#ffff00"]}, "legend": null}}},
    {"data": {"name": "Af"}, "transform": [{"fold": ["2","3"], "as": ["series","v"]}, {"filter": "datum.v > 100"}],
     "mark": {"type": "point", "size": 529, "opacity": 1, "strokeWidth": 4},
     "encoding": {
       "fill": {"field": "series", "type": "nominal", "scale": {"domain": ["1","2","3"], "range": ["#222222","transparent","transparent"]}, "legend": {"title": null, "orient": "none", "legendX": 20, "legendY": 239}},
       "stroke": {"field": "series", "type": "nominal", "scale": {"domain": ["1","2","3"], "range": ["transparent","#11ee11","#ffff00"]}, "legend": {"title": null, "orient": "none", "legendX": 20, "legendY": 239}},
       "shape": {"field": "series", "type": "nominal", "scale": {"domain": ["1","2","3"], "range": ["M-2,-0.06H2V0.06H-2ZM0.4,0A0.4,0.4,0,1,1,-0.4,0A0.4,0.4,0,1,1,0.4,0Z","M-2,0H2","M-2,0H2"]}, "legend": {"title": null, "orient": "none", "legendX": 20, "legendY": 239}},
       "strokeDash": {"field": "series", "type": "nominal", "scale": {"domain": ["1","2","3"], "range": [[1,0],[13,6],[13,6]]}, "legend": {"title": null, "orient": "none", "legendX": 20, "legendY": 239}}}}
  ]
},
{
  "title": {"text": "B"},
  "width": 402, "height": 372,
  "encoding": {
    "x": {"field": "s", "type": "quantitative", "scale": {"domain": [0, 2.53], "nice": false, "zero": false}, "axis": {"values": [0, 0.5, 1, 1.5, 2, 2.5], "format": ".1f", "title": "s, nm⁻¹"}},
    "y": {"field": "v", "type": "quantitative", "scale": {"domain": [0, 7], "nice": false}, "axis": {"values": [0,1,2,3,4,5,6,7], "title": "lg I, relative"}}
  },
  "layer": [
    {"data": {"name": "B"}, "transform": [{"fold": ["d1","d2","d3"], "as": ["curve","v"]}],
     "mark": {"type": "line", "color": "#444444", "strokeWidth": 1},
     "encoding": {"detail": {"field": "curve"}}},
    {"data": {"name": "B"}, "transform": [{"fold": ["d1","d2","d3"], "as": ["curve","v"]}],
     "mark": {"type": "point", "filled": true, "color": "#000000", "size": 72, "opacity": 1},
     "encoding": {}},
    {"data": {"name": "Bf"}, "transform": [{"fold": ["2","3","4"], "as": ["series","v"]}],
     "mark": {"type": "line", "interpolate": "monotone", "strokeDash": [13,6], "strokeWidth": 4},
     "encoding": {"color": {"field": "series", "type": "nominal", "scale": {"domain": ["2","3","4"], "range": ["#11ee11","#ffff00","#ff00ff"]}, "legend": null}}},
    {"data": {"name": "Bf"}, "transform": [{"fold": ["2","3","4"], "as": ["series","v"]}, {"filter": "datum.v > 100"}],
     "mark": {"type": "point", "size": 529, "opacity": 1, "strokeWidth": 4},
     "encoding": {
       "fill": {"field": "series", "type": "nominal", "scale": {"domain": ["1","2","3","4"], "range": ["#222222","transparent","transparent","transparent"]}, "legend": {"title": null, "orient": "none", "legendX": 20, "legendY": 209}},
       "stroke": {"field": "series", "type": "nominal", "scale": {"domain": ["1","2","3","4"], "range": ["transparent","#11ee11","#ffff00","#ff00ff"]}, "legend": {"title": null, "orient": "none", "legendX": 20, "legendY": 209}},
       "shape": {"field": "series", "type": "nominal", "scale": {"domain": ["1","2","3","4"], "range": ["M-2,-0.06H2V0.06H-2ZM0.4,0A0.4,0.4,0,1,1,-0.4,0A0.4,0.4,0,1,1,0.4,0Z","M-2,0H2","M-2,0H2","M-2,0H2"]}, "legend": {"title": null, "orient": "none", "legendX": 20, "legendY": 209}},
       "strokeDash": {"field": "series", "type": "nominal", "scale": {"domain": ["1","2","3","4"], "range": [[1,0],[13,6],[13,6],[13,6]]}, "legend": {"title": null, "orient": "none", "legendX": 20, "legendY": 209}}}}
  ]
},
{
  "title": {"text": "C"},
  "width": 402, "height": 372,
  "encoding": {
    "x": {"field": "s", "type": "quantitative", "scale": {"domain": [0, 2.53], "nice": false, "zero": false}, "axis": {"values": [0, 0.5, 1, 1.5, 2, 2.5], "format": ".1f", "title": "s, nm⁻¹"}},
    "y": {"field": "v", "type": "quantitative", "scale": {"domain": [0, 8], "nice": false}, "axis": {"values": [0,1,2,3,4,5,6,7,8], "title": "lg I, relative"}}
  },
  "layer": [
    {"data": {"name": "C"}, "transform": [{"fold": ["d1","d2","d3"], "as": ["curve","v"]}],
     "mark": {"type": "line", "color": "#444444", "strokeWidth": 1},
     "encoding": {"detail": {"field": "curve"}}},
    {"data": {"name": "C"}, "transform": [{"fold": ["d1","d2","d3"], "as": ["curve","v"]}],
     "mark": {"type": "point", "filled": true, "color": "#000000", "size": 72, "opacity": 1},
     "encoding": {}},
    {"data": {"name": "Cf"}, "transform": [{"fold": ["2","3","4"], "as": ["series","v"]}],
     "mark": {"type": "line", "interpolate": "monotone", "strokeDash": [13,6], "strokeWidth": 4},
     "encoding": {"color": {"field": "series", "type": "nominal", "scale": {"domain": ["2","3","4"], "range": ["#11ee11","#ffff00","#ff00ff"]}, "legend": null}}},
    {"data": {"name": "Cf"}, "transform": [{"fold": ["2","3","4"], "as": ["series","v"]}, {"filter": "datum.v > 100"}],
     "mark": {"type": "point", "size": 529, "opacity": 1, "strokeWidth": 4},
     "encoding": {
       "fill": {"field": "series", "type": "nominal", "scale": {"domain": ["1","2","3","4"], "range": ["#222222","transparent","transparent","transparent"]}, "legend": {"title": null, "orient": "none", "legendX": 20, "legendY": 205}},
       "stroke": {"field": "series", "type": "nominal", "scale": {"domain": ["1","2","3","4"], "range": ["transparent","#11ee11","#ffff00","#ff00ff"]}, "legend": {"title": null, "orient": "none", "legendX": 20, "legendY": 205}},
       "shape": {"field": "series", "type": "nominal", "scale": {"domain": ["1","2","3","4"], "range": ["M-2,-0.06H2V0.06H-2ZM0.4,0A0.4,0.4,0,1,1,-0.4,0A0.4,0.4,0,1,1,0.4,0Z","M-2,0H2","M-2,0H2","M-2,0H2"]}, "legend": {"title": null, "orient": "none", "legendX": 20, "legendY": 205}},
       "strokeDash": {"field": "series", "type": "nominal", "scale": {"domain": ["1","2","3","4"], "range": [[1,0],[13,6],[13,6],[13,6]]}, "legend": {"title": null, "orient": "none", "legendX": 20, "legendY": 205}}}}
  ]
}
]
}
